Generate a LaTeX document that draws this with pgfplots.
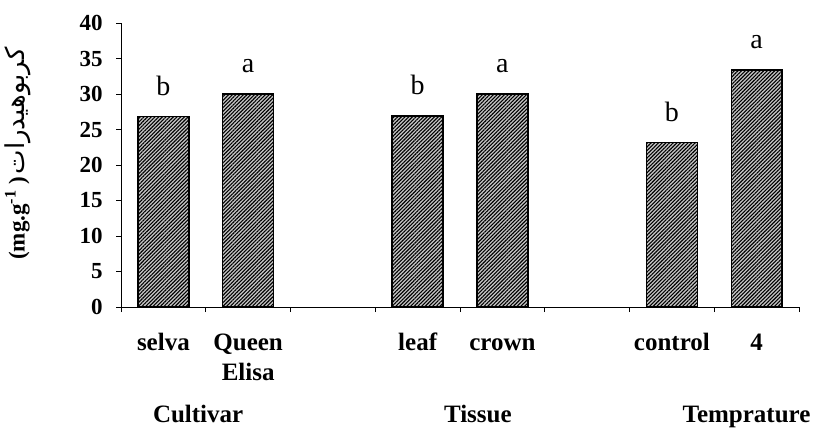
\documentclass[border=0pt]{standalone}
\usepackage{pgfplots}
\pgfplotsset{compat=1.18}
\usepackage{fontspec}
\setmainfont{Liberation Serif}
\newfontfamily\arabicfont[Script=Arabic]{DejaVu Sans}
\usetikzlibrary{patterns.meta}
\TeXXeTstate=1
\begin{document}
\begin{tikzpicture}
\begin{axis}[
  scale only axis,
  width=678bp, height=284bp,
  xmin=-0.5, xmax=7.5,
  ymin=0, ymax=40,
  ytick distance=5,
  axis x line=bottom,
  axis y line=left,
  axis line style={-, line width=0.8bp},
  xtick={0,1,3,4,6,7},
  xticklabels={\strut selva,{\strut Queen\\Elisa},\strut leaf,\strut crown,\strut control,\strut 4},
  major x tick style={draw=none},
  minor xtick={-0.5,0.5,...,7.5},
  minor x tick style={line width=0.6bp, black},
  minor tick length=5bp,
  major tick length=5bp,
  tick align=outside,
  tick style={black, line width=0.8bp},
  xticklabel style={font=\fontsize{25bp}{30bp}\selectfont\bfseries, align=center, yshift=-14bp},
  yticklabel style={font=\fontsize{23bp}{26bp}\selectfont\bfseries, xshift=-10bp},
  /pgf/number format/assume math mode=true,
  ylabel={{\fontsize{23bp}{26bp}\selectfont\bfseries (mg.g\textsuperscript{-1} )} {\fontsize{26bp}{30bp}\selectfont\arabicfont\beginR کربوهیدرات\endR}},
  ylabel style={at={(axis description cs:-0.152,0.54)}, anchor=center},
  clip=false,
  point meta=explicit symbolic,
  nodes near coords,
  nodes near coords style={font=\fontsize{28bp}{32bp}\selectfont, anchor=south, inner sep=0pt, yshift=20bp, text=black},
]
\addplot[ybar, bar width=0.6, draw=black, line width=1.5bp, fill=gray!45,
  postaction={pattern={Lines[angle=45, distance=2.6bp, line width=1.1bp]}, pattern color=black}]
  coordinates {(0,26.8) [b] (1,30.0) [a] (3,26.9) [b] (4,30.0) [a] (6,23.2) [b] (7,33.4) [a]};
\node[anchor=base, inner sep=0pt, font=\fontsize{25bp}{28bp}\selectfont\bfseries] at (axis cs:0.41,-16.3) {Cultivar};
\node[anchor=base, inner sep=0pt, font=\fontsize{25bp}{28bp}\selectfont\bfseries] at (axis cs:3.71,-16.3) {Tissue};
\node[anchor=base, inner sep=0pt, font=\fontsize{25bp}{28bp}\selectfont\bfseries] at (axis cs:6.88,-16.3) {Temprature};
\coordinate (bbl) at (axis cs:-1.928,-17.32);
\coordinate (btr) at (axis cs:7.70,43.24);
\end{axis}
\pgfresetboundingbox
\path[use as bounding box] (bbl) rectangle (btr);
\end{tikzpicture}
\end{document}
